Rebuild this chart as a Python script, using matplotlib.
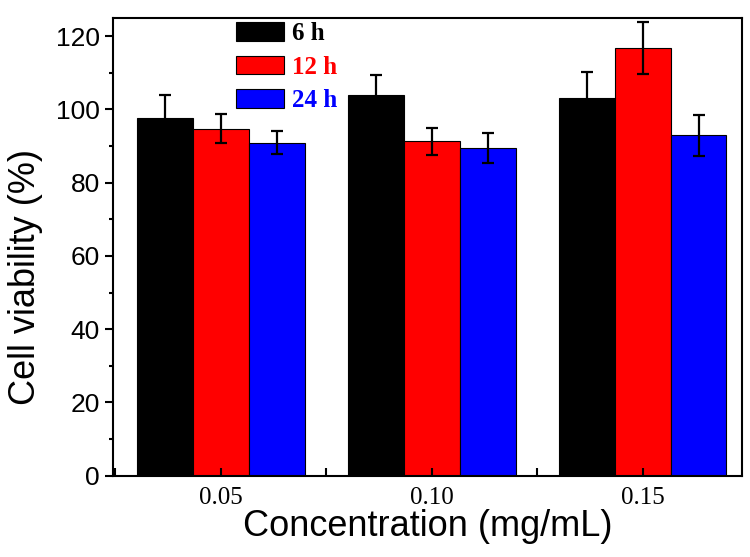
import matplotlib
matplotlib.use("Agg")
import matplotlib.pyplot as plt
import numpy as np
from matplotlib.ticker import MultipleLocator

# data
concentrations = ["0.05", "0.10", "0.15"]
times = ["6 h", "12 h", "24 h"]
colors = ["#000000", "#ff0000", "#0000ff"]
viab_6h = [97.6, 103.9, 103.0]
viab_12h = [94.7, 91.3, 116.7]
viab_24h = [90.9, 89.5, 92.9]
err_6h = [6.2, 5.6, 7.3]
err_12h = [4.0, 3.7, 7.1]
err_24h = [3.1, 4.1, 5.7]

values = [viab_6h, viab_12h, viab_24h]
errors = [err_6h, err_12h, err_24h]

fig = plt.figure(figsize=(7.5, 5.57), dpi=100)
ax = fig.add_axes([0.151, 0.146, 0.838, 0.822])

x = np.arange(len(concentrations))
w = 0.265
for i in range(3):
    ax.bar(x + (i - 1) * w, values[i], w, yerr=errors[i], color=colors[i],
           edgecolor="black", linewidth=0.8, label=times[i],
           error_kw=dict(ecolor="black", elinewidth=1.6, capsize=4, capthick=1.6))

ax.set_xlim(-0.51, 2.47)
ax.set_ylim(0, 125)
ax.set_xticks(x)
ax.set_xticklabels(concentrations, family="Liberation Serif", fontsize=18)
ax.xaxis.set_minor_locator(MultipleLocator(0.5))
ax.set_yticks(np.arange(0, 121, 20))
ax.yaxis.set_minor_locator(MultipleLocator(10))
for lab in ax.get_yticklabels():
    lab.set_family("Liberation Sans")
    lab.set_fontsize(19)

ax.tick_params(axis="x", which="both", direction="in", length=6, width=1.5, pad=8)
ax.tick_params(axis="y", which="major", direction="out", length=6, width=1.5)
ax.tick_params(axis="y", which="minor", direction="out", length=3, width=1.5)
for s in ax.spines.values():
    s.set_linewidth(1.5)

ax.set_xlabel("Concentration (mg/mL)", family="Liberation Sans", fontsize=26, labelpad=0)
ax.set_ylabel("Cell viability (%)", family="Liberation Sans", fontsize=26)
ax.yaxis.set_label_coords(-0.112, 0.435)

leg = ax.legend(loc="upper left", bbox_to_anchor=(0.196, 0.99), frameon=False,
                prop=dict(family="Liberation Serif", weight="bold", size=18),
                handlelength=1.92, handleheight=0.76, labelspacing=0.42,
                handletextpad=0.3, borderpad=0, borderaxespad=0)
for t, c in zip(leg.get_texts(), colors):
    t.set_color(c)

fig.savefig("out.png", dpi=100)
